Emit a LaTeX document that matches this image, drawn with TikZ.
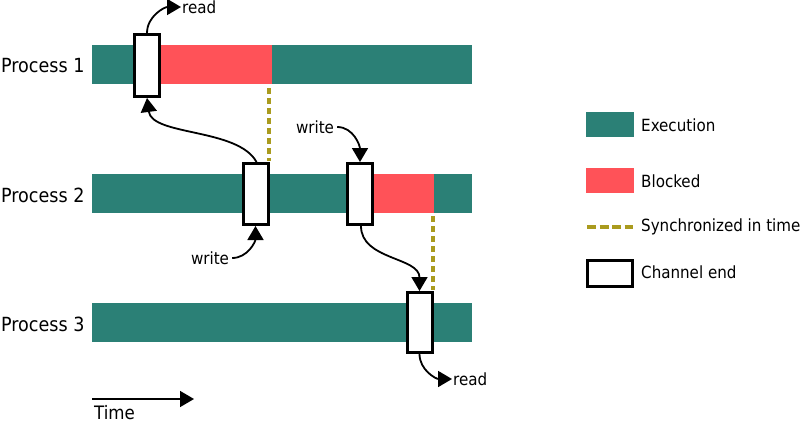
\documentclass[tikz,border=0pt]{standalone}
\usepackage{fontspec}
\setmainfont{DejaVu Sans Condensed}
\usetikzlibrary{arrows.meta}
\definecolor{exec}{RGB}{43,128,118}
\definecolor{blk}{RGB}{255,82,88}
\definecolor{syncc}{RGB}{170,155,30}
\begin{document}
\begin{tikzpicture}[x=1pt,y=-1pt,
  bar/.style={fill=exec, draw=none, inner sep=0pt, minimum height=39pt, anchor=north west},
  blkbar/.style={fill=blk, draw=none, inner sep=0pt, minimum height=39pt, anchor=north west},
  chan/.style={draw=black, fill=white, line width=3pt, inner sep=0pt, minimum width=25pt},
  arr/.style={-{Triangle[length=14pt,width=16pt]}, line width=1.8pt},
  syncline/.style={draw=syncc, line width=3.2pt, dash pattern=on 6pt off 4pt},
  lbl/.style={font=\fontsize{16.8}{20}\selectfont, inner sep=1pt},
  plbl/.style={font=\fontsize{19.5}{23}\selectfont, inner sep=0pt, anchor=west}]
\useasboundingbox (0,0) rectangle (800,423);

% process labels
\node[plbl] (p1) at (1,66) {Process 1};
\node[plbl] (p2) at (1,195) {Process 2};
\node[plbl] (p3) at (1,324) {Process 3};

% bars
\node[bar, minimum width=380pt] (b1) at (92,45) {};
\node[bar, minimum width=380pt] (b2) at (92,174) {};
\node[bar, minimum width=380pt] (b3) at (92,303) {};
\node[blkbar, minimum width=111pt] (k1) at (161,45) {};
\node[blkbar, minimum width=60pt] (k2) at (374,174) {};

% dashed sync lines
\coordinate (s1a) at (269,88);
\coordinate (s1b) at (269,161);
\coordinate (s2a) at (433,216);
\coordinate (s2b) at (433,290);
\draw[syncline] (s1a) -- (s1b);
\draw[syncline] (s2a) -- (s2b);

% channel ends
\node[chan, minimum height=62pt] (c1) at (147,65.5) {};
\node[chan, minimum height=61pt] (c2) at (255.5,194) {};
\node[chan, minimum height=61pt] (c3) at (360,194) {};
\node[chan, minimum height=60pt] (c4) at (419.5,322.5) {};

% labels
\node[lbl, anchor=west] (r1) at (181,7) {read};
\node[lbl] (w1) at (210,258) {write};
\node[lbl] (w2) at (315,127) {write};
\node[lbl, anchor=west] (r2) at (452,379) {read};

% arrows
\draw[arr] (c1.north) to[out=90,in=180] (r1.west);
\draw[arr] ([xshift=1pt]c2.north) .. controls (238,128) and (152,136) .. (c1.south);
\draw[arr] ([xshift=2pt]w1.east) to[out=0,in=-90] (c2.south);
\draw[arr] ([xshift=2pt]w2.east) to[out=0,in=90] (c3.north);
\draw[arr] ([xshift=1pt]c3.south) to[out=-90,in=90] (c4.north);
\draw[arr] (c4.south) to[out=-90,in=180] (r2.west);

% time arrow
\coordinate (t0) at (92,399);
\coordinate (t1) at (194,399);
\draw[arr, line width=1.6pt] (t0) -- (t1);
\node[plbl, font=\fontsize{18.5}{22}\selectfont] (tm) at (94,413) {Time};

% legend
\node[bar, minimum width=48pt, minimum height=25pt] (le) at (586,112) {};
\node[lbl, anchor=west] (lte) at (640,125) {Execution};
\node[blkbar, minimum width=48pt, minimum height=25pt] (lb) at (586,168) {};
\node[lbl, anchor=west] (ltb) at (640,181) {Blocked};
\coordinate (ls0) at (587,227);
\coordinate (ls1) at (633,227);
\draw[syncline, dash pattern=on 9pt off 3.5pt] (ls0) -- (ls1);
\node[lbl, anchor=west] (lts) at (640,227) {Synchronized in time};
\node[chan, minimum width=45pt, minimum height=26pt] (lc) at (610,273.5) {};
\node[lbl, anchor=west] (ltc) at (640,272) {Channel end};
\end{tikzpicture}
\end{document}
